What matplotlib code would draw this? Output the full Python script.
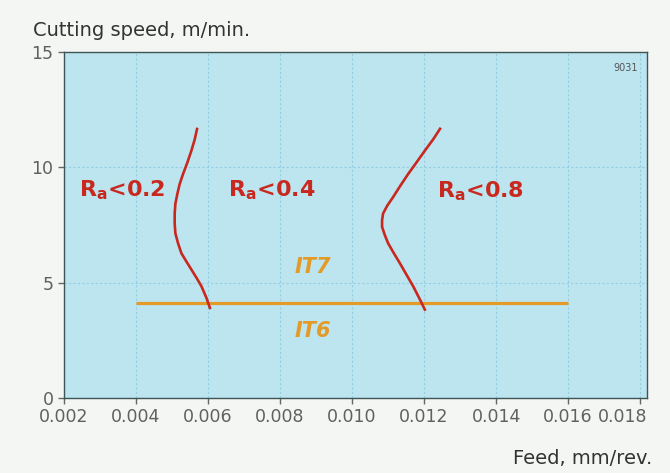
import matplotlib
matplotlib.use("Agg")
import matplotlib.pyplot as plt
from matplotlib.transforms import ScaledTranslation

# Ra limit curves (feed mm/rev, cutting speed m/min)
ra02_feed = [0.005703, 0.005630, 0.005537, 0.005426, 0.005306, 0.005213, 0.005148, 0.005093,
             0.005074, 0.005074, 0.005093, 0.005167, 0.005259, 0.005398, 0.005537, 0.005676,
             0.005815, 0.005953, 0.006064]
ra02_speed = [11.72, 11.21, 10.72, 10.21, 9.71, 9.28, 8.85, 8.42, 8.00, 7.57, 7.14, 6.71,
              6.28, 5.92, 5.57, 5.22, 4.85, 4.35, 3.85]
ra08_feed = [0.012463, 0.012250, 0.012019, 0.011787, 0.011556, 0.011343, 0.011139, 0.010981,
             0.010861, 0.010833, 0.010833, 0.010907, 0.011000, 0.011158, 0.011325, 0.011509,
             0.011694, 0.011881, 0.012036]
ra08_speed = [11.72, 11.21, 10.72, 10.21, 9.71, 9.21, 8.71, 8.35, 8.00, 7.71, 7.42, 7.07,
              6.71, 6.28, 5.85, 5.35, 4.85, 4.28, 3.78]

# IT7 / IT6 boundary
it_feed = [0.004, 0.016]
it_speed = [4.13, 4.13]

labels = ["R$_\\mathrm{a}$<0.2", "R$_\\mathrm{a}$<0.4", "R$_\\mathrm{a}$<0.8"]
label_x = [0.00361, 0.00778, 0.01355]
label_y = [8.75, 8.75, 8.7]
it_labels = ["IT7", "IT6"]
it_label_x = [0.0089, 0.0089]
it_label_y = [5.67, 2.92]

xticks = [0.002, 0.004, 0.006, 0.008, 0.010, 0.012, 0.014, 0.016, 0.018]
yticks = [0, 5, 10, 15]

plt.rcParams['font.family'] = ['DejaVu Sans']
plt.rcParams['mathtext.fontset'] = 'custom'
plt.rcParams['mathtext.rm'] = 'DejaVu Sans:bold'

red = '#c8281e'
orange = '#e39a26'

fig = plt.figure(figsize=(6.7, 4.73), dpi=100, facecolor='#f4f6f3')
ax = fig.add_axes([0.0955, 0.1586, 0.8702, 0.7314])
ax.set_facecolor('#bce5f0')

ax.plot(ra02_feed, ra02_speed, color=red, lw=1.9, solid_capstyle='butt', solid_joinstyle='round')
ax.plot(ra08_feed, ra08_speed, color=red, lw=1.9, solid_capstyle='butt', solid_joinstyle='round')
ax.plot(it_feed, it_speed, color=orange, lw=2.3, solid_capstyle='butt', zorder=1.9)

for s, x, y in zip(labels, label_x, label_y):
    ax.text(x, y, s, color=red, fontsize=16, fontweight='bold', ha='center', va='baseline')
for s, x, y in zip(it_labels, it_label_x, it_label_y):
    ax.text(x, y, s, color=orange, fontsize=15, fontweight='bold', style='italic',
            ha='center', va='center')

ax.text(0.985, 0.955, '9031', transform=ax.transAxes, fontsize=7, color='#555555',
        ha='right', va='center')

ax.set_xlim(0.002, 0.01819)
ax.set_ylim(0, 15)
ax.set_xticks(xticks)
ax.set_xticklabels(['%.3f' % v for v in xticks])
ax.set_yticks(yticks)
ax.grid(True, color='#94cde0', lw=0.8, ls=(0, (2, 2)))
ax.set_axisbelow(True)
ax.tick_params(colors='#666666', labelcolor='#606060', labelsize=12.5, length=4, width=1)
for sp in ax.spines.values():
    sp.set_color('#3f5454')
    sp.set_linewidth(1.0)

# last feed label sits pulled in from the right edge
last = ax.get_xticklabels()[-1]
last.set_transform(last.get_transform() + ScaledTranslation(-18 / 100, 0, fig.dpi_scale_trans))

fig.text(33 / 670, 1 - 31 / 473, 'Cutting speed, m/min.', fontsize=14, color='#333333',
         ha='left', va='center')
fig.text(652 / 670, 1 - 458 / 473, 'Feed, mm/rev.', fontsize=14, color='#333333',
         ha='right', va='center')

fig.savefig('out.png', dpi=100, facecolor=fig.get_facecolor())
